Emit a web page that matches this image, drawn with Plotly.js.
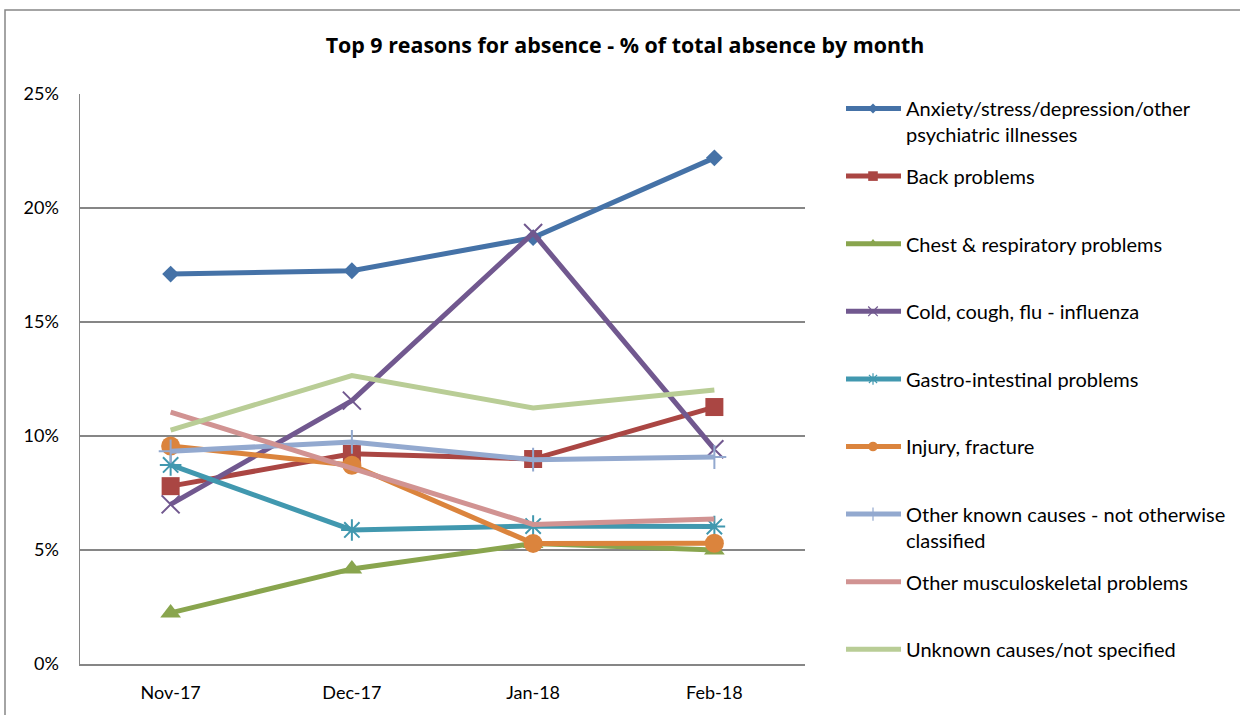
<!DOCTYPE html>
<html>
<head>
<meta charset="utf-8">
<script src="https://cdn.plot.ly/plotly-3.0.1.min.js"></script>
<style>
  html, body { margin: 0; padding: 0; background: #ffffff; }
  #chart { width: 1240px; height: 715px; }
</style>
</head>
<body>
<div id="chart"></div>
<script>
// ---- Data (percent of total absence) ----
var months = ["Nov-17", "Dec-17", "Jan-18", "Feb-18"];

var anxiety       = [17.1, 17.25, 18.7, 22.2];
var back          = [7.8, 9.22, 8.99, 11.27];
var chest         = [2.24, 4.17, 5.28, 5.0];
var cold          = [7.0, 11.55, 18.9, 9.42];
var gastro        = [8.73, 5.88, 6.05, 6.03];
var injury        = [9.56, 8.72, 5.29, 5.3];
var otherKnown    = [9.33, 9.74, 8.96, 9.08];
var otherMusculo  = [11.05, 8.6, 6.12, 6.36];
var unknown       = [10.26, 12.65, 11.23, 12.02];

var seriesNames = [
  "Anxiety/stress/depression/other<br>psychiatric illnesses",
  "Back problems",
  "Chest &amp; respiratory problems",
  "Cold, cough, flu - influenza",
  "Gastro-intestinal problems",
  "Injury, fracture",
  "Other known causes - not otherwise<br>classified",
  "Other musculoskeletal problems",
  "Unknown causes/not specified"
];
var yTickVals = [0, 5, 10, 15, 20, 25];
var yTickText = ["0%", "5%", "10%", "15%", "20%", "25%"];

// ---- Styling ----
var seriesValues = [anxiety, back, chest, cold, gastro, injury, otherKnown, otherMusculo, unknown];
var colors = ["#4572A7", "#AA4643", "#89A54E", "#71588F", "#4198AF", "#DB843D", "#93A9CF", "#D19392", "#B9CD96"];
var symbols = ["diamond", "square", "triangle-up", "x-thin-open", "asterisk-open", "circle", "cross-thin-open", null, null];
var sizes = [13, 18, 18, 18, 18, 19, 17, 0, 0];
var outline = [0, 0, 0, 2, 2, 0, 2, 0, 0];

var traces = seriesValues.map(function (vals, i) {
  var name = seriesNames[i];
  if (name.indexOf("<br>") < 0) name = name + "<br> ";
  var t = {
    type: "scatter",
    x: months,
    y: vals,
    name: name,
    legendgroup: "g" + i,
    mode: symbols[i] ? "lines+markers" : "lines",
    line: { color: colors[i], width: 5 },
    hoverinfo: "x+y"
  };
  if (symbols[i]) {
    t.marker = {
      symbol: symbols[i],
      size: sizes[i],
      color: colors[i],
      line: { color: colors[i], width: outline[i] }
    };
  }
  return t;
});

var FONT = "Lato, 'Open Sans', Arial, sans-serif";

var layout = {
  width: 1240,
  height: 715,
  paper_bgcolor: "#ffffff",
  plot_bgcolor: "#ffffff",
  margin: { l: 80, r: 435, t: 94, b: 51 },
  font: { family: FONT, size: 18, color: "#000000" },
  title: {
    text: "<b>Top 9 reasons for absence - % of total absence by month</b>",
    font: { family: "'Open Sans', Lato, Arial, sans-serif", size: 21.4, color: "#000000" },
    x: 625 / 1240, xref: "container", xanchor: "center",
    y: 1 - 46 / 715, yref: "container", yanchor: "middle"
  },
  xaxis: {
    type: "category",
    range: [-0.5, 3.5],
    showgrid: false,
    showline: true,
    linecolor: "#868686",
    linewidth: 1.5,
    ticks: "",
    ticklabelstandoff: 12,
    tickfont: { family: FONT, size: 18, color: "#000000" },
    fixedrange: true,
    zeroline: false
  },
  yaxis: {
    range: [0, 25],
    tickmode: "array",
    tickvals: yTickVals,
    ticktext: yTickText,
    showgrid: true,
    gridcolor: "#868686",
    gridwidth: 1.5,
    showline: true,
    linecolor: "#868686",
    linewidth: 1.5,
    ticks: "",
    ticklabelstandoff: 16,
    tickfont: { family: FONT, size: 18, color: "#000000" },
    zeroline: false,
    fixedrange: true
  },
  showlegend: true,
  legend: {
    xref: "container", yref: "container",
    x: 841 / 1240, xanchor: "left",
    y: 1 - 89 / 715, yanchor: "top",
    traceorder: "grouped",
    tracegroupgap: 12.6,
    valign: "top",
    itemwidth: 55,
    maxheight: 660,
    font: { family: FONT, size: 20, color: "#000000" },
    bgcolor: "rgba(0,0,0,0)",
    borderwidth: 0
  },
  shapes: [{
    type: "rect", xref: "paper", yref: "paper",
    x0: (5 - 80) / 725, x1: (1250 - 80) / 725,
    y0: (664 - 725) / 570, y1: (664 - 10) / 570,
    line: { color: "#868686", width: 1.5 },
    fillcolor: "rgba(0,0,0,0)",
    layer: "below"
  }],
  hovermode: "closest"
};

Plotly.newPlot("chart", traces, layout, { displayModeBar: false, staticPlot: true }).then(function (gd) {
  // lengthen legend line samples and shrink legend markers, Excel-style legend keys
  var lines = gd.querySelectorAll(".legend .traces .legendlines path");
  lines.forEach(function (p) { p.setAttribute("d", "M5,0h55"); });
  var pts = gd.querySelectorAll(".legend .traces .legendpoints path.scatterpts");
  pts.forEach(function (p) { p.setAttribute("transform", "translate(32,0) scale(0.6)"); });
});
</script>
</body>
</html>
